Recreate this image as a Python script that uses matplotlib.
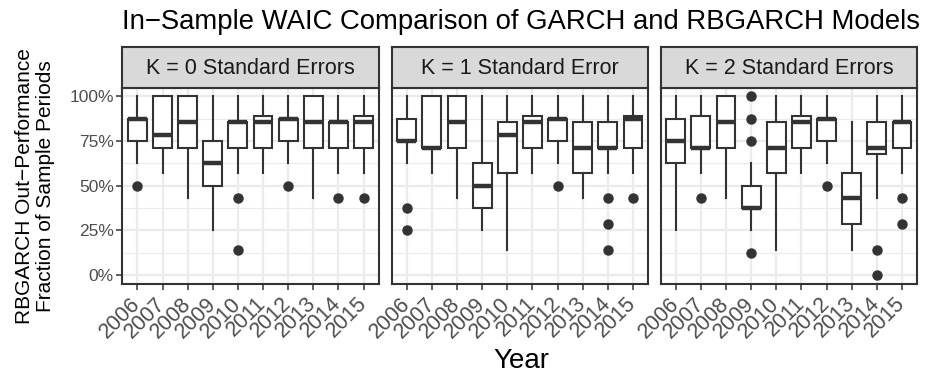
import matplotlib
matplotlib.use("Agg")
import matplotlib.pyplot as plt
from matplotlib.ticker import FixedLocator

plt.rcParams['font.family'] = ['Liberation Sans', 'DejaVu Sans']

years = ["2006", "2007", "2008", "2009", "2010", "2011", "2012", "2013", "2014", "2015"]
panel_titles = ["K = 0 Standard Errors", "K = 1 Standard Error", "K = 2 Standard Errors"]
y_ticks = [0.0, 0.25, 0.5, 0.75, 1.0]
y_tick_labels = ["0%", "25%", "50%", "75%", "100%"]

# K = 0
k0_low = [0.625, 0.571, 0.429, 0.25, 0.571, 0.571, 0.625, 0.429, 0.571, 0.571]
k0_q1 = [0.75, 0.714, 0.714, 0.5, 0.714, 0.714, 0.75, 0.714, 0.714, 0.714]
k0_med = [0.875, 0.786, 0.857, 0.625, 0.857, 0.857, 0.875, 0.857, 0.857, 0.857]
k0_q3 = [0.875, 1.0, 1.0, 0.75, 0.857, 0.893, 0.875, 1.0, 0.857, 0.893]
k0_high = [1.0, 1.0, 1.0, 1.0, 1.0, 1.0, 1.0, 1.0, 1.0, 1.0]
k0_out = [[0.5], [], [], [], [0.429, 0.143], [], [0.5], [], [0.429], [0.429]]

# K = 1
k1_low = [0.625, 0.571, 0.429, 0.25, 0.143, 0.571, 0.625, 0.429, 0.571, 0.571]
k1_q1 = [0.75, 0.714, 0.714, 0.375, 0.571, 0.714, 0.75, 0.571, 0.714, 0.714]
k1_med = [0.75, 0.714, 0.857, 0.5, 0.786, 0.857, 0.875, 0.714, 0.714, 0.875]
k1_q3 = [0.875, 1.0, 1.0, 0.625, 0.857, 0.893, 0.875, 0.857, 0.857, 0.893]
k1_high = [1.0, 1.0, 1.0, 1.0, 1.0, 1.0, 1.0, 1.0, 1.0, 1.0]
k1_out = [[0.375, 0.25], [], [], [], [], [], [0.5], [], [0.429, 0.286, 0.143], [0.429]]

# K = 2
k2_low = [0.25, 0.571, 0.429, 0.25, 0.143, 0.571, 0.625, 0.143, 0.429, 0.571]
k2_q1 = [0.625, 0.714, 0.714, 0.375, 0.571, 0.714, 0.75, 0.286, 0.679, 0.714]
k2_med = [0.75, 0.714, 0.857, 0.375, 0.714, 0.857, 0.875, 0.429, 0.714, 0.857]
k2_q3 = [0.875, 0.893, 1.0, 0.5, 0.857, 0.893, 0.875, 0.571, 0.857, 0.857]
k2_high = [1.0, 1.0, 1.0, 0.625, 1.0, 1.0, 1.0, 0.857, 1.0, 1.0]
k2_out = [[], [0.429], [], [1.0, 0.875, 0.75, 0.125], [], [], [0.5], [], [0.143, 0.0], [0.429, 0.286]]

panels = [
    (k0_low, k0_q1, k0_med, k0_q3, k0_high, k0_out),
    (k1_low, k1_q1, k1_med, k1_q3, k1_high, k1_out),
    (k2_low, k2_q1, k2_med, k2_q3, k2_high, k2_out),
]

W, H = 930, 390
fig = plt.figure(figsize=(W / 100, H / 100), dpi=100)

dark = "#333333"
grid_col = "#EBEBEB"
tick_col = "#4D4D4D"

panel_lefts = [122.3, 391.7, 660.7]
panel_w = 256.3
panel_top, panel_bot = 87.5, 284.0
strip_top = 47.3

for i, (lo, q1, med, q3, hi, out) in enumerate(panels):
    x0 = panel_lefts[i]
    ax = fig.add_axes([x0 / W, 1 - panel_bot / H, panel_w / W, (panel_bot - panel_top) / H])
    stats = []
    for j in range(len(years)):
        stats.append(dict(whislo=lo[j], q1=q1[j], med=med[j], q3=q3[j],
                          whishi=hi[j], fliers=out[j], label=years[j]))
    ax.bxp(stats, positions=list(range(1, len(years) + 1)), widths=0.75,
           showcaps=False, patch_artist=True, manage_ticks=False,
           boxprops=dict(facecolor="white", edgecolor=dark, linewidth=1.5),
           whiskerprops=dict(color=dark, linewidth=1.5),
           medianprops=dict(color=dark, linewidth=3.2, solid_capstyle='butt'),
           flierprops=dict(marker='o', markerfacecolor=dark, markeredgecolor=dark,
                           markersize=6.5, linestyle='none'))
    ax.set_xlim(0.4, len(years) + 0.6)
    ax.set_ylim(-0.05, 1.05)
    ax.set_xticks(range(1, len(years) + 1))
    ax.set_xticklabels(years, rotation=45, ha='right', va='center', rotation_mode='anchor',
                       fontsize=15.5, color=tick_col)
    ax.set_yticks(y_ticks)
    ax.yaxis.set_minor_locator(FixedLocator([0.125, 0.375, 0.625, 0.875]))
    if i == 0:
        ax.set_yticklabels(y_tick_labels, fontsize=12.5, color=tick_col)
    else:
        ax.tick_params(axis='y', which='both', left=False, labelleft=False)
    ax.tick_params(axis='both', which='major', length=4, width=1.1, color=dark, pad=2)
    ax.tick_params(axis='x', which='major', pad=8)
    ax.tick_params(axis='y', which='minor', length=0)
    ax.grid(True, which='major', color=grid_col, linewidth=1.6)
    ax.grid(True, which='minor', axis='y', color=grid_col, linewidth=0.8)
    ax.set_axisbelow(True)
    for s in ax.spines.values():
        s.set_color(dark)
        s.set_linewidth(1.5)
    # strip
    sax = fig.add_axes([x0 / W, 1 - panel_top / H, panel_w / W, (panel_top - strip_top) / H])
    sax.set_facecolor("#D9D9D9")
    sax.set_xticks([])
    sax.set_yticks([])
    for s in sax.spines.values():
        s.set_color(dark)
        s.set_linewidth(1.5)
    sax.text(0.5, 0.48, panel_titles[i], transform=sax.transAxes, ha='center', va='center',
             fontsize=15.5, color="#1A1A1A")

fig.text(122 / W, 1 - 22 / H, "In\u2212Sample WAIC Comparison of GARCH and RBGARCH Models",
         ha='left', va='center', fontsize=19.8, color='black')
fig.text(35 / W, 1 - 186 / H, "RBGARCH Out\u2212Performance\nFraction of Sample Periods",
         rotation=90, ha='center', va='center', fontsize=15, color='black', linespacing=1.1)
fig.text(521 / W, 1 - 361 / H, "Year", ha='center', va='center', fontsize=20, color='black')

fig.savefig("out.png", dpi=100, facecolor='white')
